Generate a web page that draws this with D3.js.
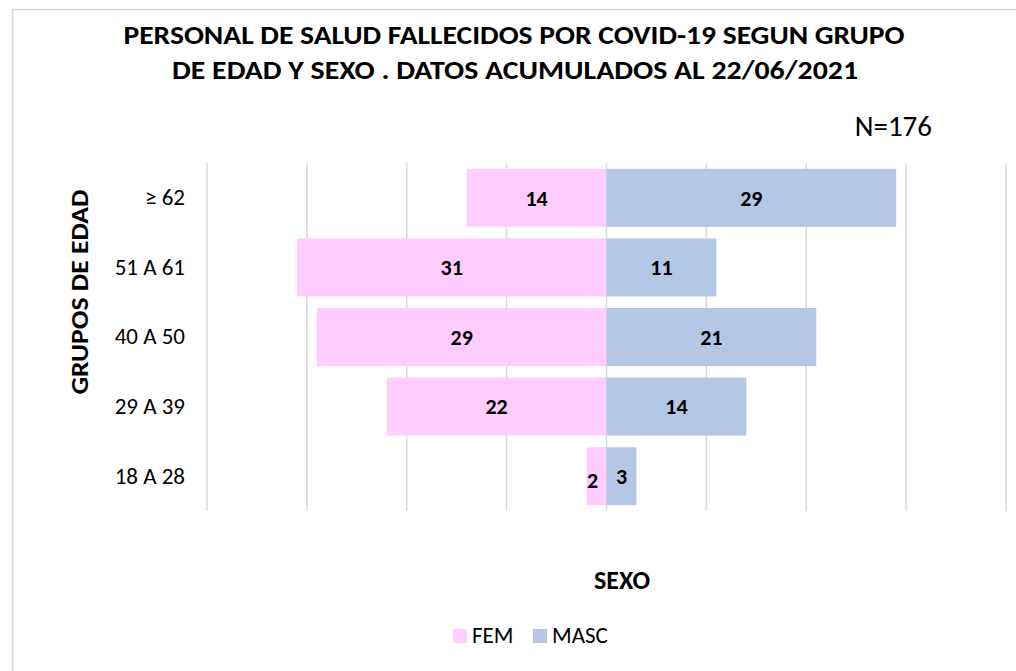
<!DOCTYPE html>
<html>
<head>
<meta charset="utf-8">
<script src="https://cdn.jsdelivr.net/npm/d3@7"></script>
<style>
  body { margin: 0; background: #fff; }
  svg text { font-family: Carlito, Calibri, "Open Sans", sans-serif; fill: #000; }
</style>
</head>
<body>
<div id="chart"></div>
<script>
// data
var groups = ['≥ 62', '51 A 61', '40 A 50', '29 A 39', '18 A 28'];
var fem = [14, 31, 29, 22, 2];
var masc = [29, 11, 21, 14, 3];
var ticks = [-40, -30, -20, -10, 0, 10, 20, 30, 40];
var seriesNames = ['FEM', 'MASC'];
var colors = ['#ffccff', '#b4c7e7'];

var width = 1016, height = 671;

var svg = d3.select('#chart').append('svg')
    .attr('width', width)
    .attr('height', height);

// chart frame (only left/top edges inside the window)
svg.append('rect')
    .attr('x', 12.5).attr('y', 9.5)
    .attr('width', width + 20).attr('height', height + 20)
    .attr('fill', 'none')
    .attr('stroke', '#d9d9d9')
    .attr('stroke-width', 1.5);

var xScale = d3.scaleLinear()
    .domain([-40, 40])
    .range([207, 1006]);

var yScale = d3.scaleBand()
    .domain(groups)
    .range([163, 511])
    .paddingInner(1 / 6)
    .paddingOuter(1 / 12);

// gridlines
svg.append('g').attr('class', 'grid')
    .selectAll('line')
    .data(ticks)
    .enter().append('line')
    .attr('x1', function (d) { return xScale(d); })
    .attr('x2', function (d) { return xScale(d); })
    .attr('y1', 163)
    .attr('y2', 511)
    .attr('stroke', '#d9d9d9')
    .attr('stroke-width', 1.5);

// bars
var rows = groups.map(function (g, i) { return {g: g, f: fem[i], m: masc[i]}; });
var bars = svg.append('g');

bars.selectAll('rect.fem')
    .data(rows)
    .enter().append('rect')
    .attr('class', 'fem')
    .attr('x', function (d) { return xScale(-d.f); })
    .attr('y', function (d) { return yScale(d.g); })
    .attr('width', function (d) { return xScale(0) - xScale(-d.f); })
    .attr('height', yScale.bandwidth())
    .attr('fill', colors[0]);

bars.selectAll('rect.masc')
    .data(rows)
    .enter().append('rect')
    .attr('class', 'masc')
    .attr('x', xScale(0))
    .attr('y', function (d) { return yScale(d.g); })
    .attr('width', function (d) { return xScale(d.m) - xScale(0); })
    .attr('height', yScale.bandwidth())
    .attr('fill', colors[1]);

// value labels
bars.selectAll('text.fem')
    .data(rows)
    .enter().append('text')
    .attr('x', function (d) { return d.f < 4 ? (xScale(-d.f) + xScale(0)) / 2 - 4 : (xScale(-d.f) + xScale(0)) / 2; })
    .attr('y', function (d) { return yScale(d.g) + yScale.bandwidth() / 2 + (d.f < 4 ? 4 : 0); })
    .attr('dy', '0.35em')
    .attr('text-anchor', 'middle')
    .attr('font-weight', 'bold')
    .attr('font-size', 22)
    .text(function (d) { return d.f; });

bars.selectAll('text.masc')
    .data(rows)
    .enter().append('text')
    .attr('x', function (d) { return (xScale(d.m) + xScale(0)) / 2; })
    .attr('y', function (d) { return yScale(d.g) + yScale.bandwidth() / 2; })
    .attr('dy', '0.35em')
    .attr('text-anchor', 'middle')
    .attr('font-weight', 'bold')
    .attr('font-size', 22)
    .text(function (d) { return d.m; });

// y axis (labels only)
var yAxis = d3.axisLeft(yScale).tickSize(0).tickPadding(0);
var yAxisG = svg.append('g')
    .attr('transform', 'translate(185,0)')
    .call(yAxis);
yAxisG.select('.domain').remove();
yAxisG.selectAll('text')
    .attr('font-size', 23)
    .attr('font-family', 'Carlito, Calibri, "Open Sans", sans-serif')
    .attr('fill', '#000');

// titles
svg.append('text')
    .attr('x', 514).attr('y', 44)
    .attr('text-anchor', 'middle')
    .attr('font-weight', 'bold')
    .attr('font-size', 27)
    .attr('textLength', 781)
    .attr('lengthAdjust', 'spacingAndGlyphs')
    .text('PERSONAL DE SALUD FALLECIDOS POR COVID-19 SEGUN GRUPO');

svg.append('text')
    .attr('x', 515).attr('y', 79)
    .attr('text-anchor', 'middle')
    .attr('font-weight', 'bold')
    .attr('font-size', 27)
    .attr('textLength', 686)
    .attr('lengthAdjust', 'spacingAndGlyphs')
    .text('DE EDAD Y SEXO . DATOS ACUMULADOS AL 22/06/2021');

svg.append('text')
    .attr('x', 932).attr('y', 136)
    .attr('text-anchor', 'end')
    .attr('font-size', 29)
    .text('N=176');

svg.append('text')
    .attr('transform', 'translate(88,292) rotate(-90)')
    .attr('text-anchor', 'middle')
    .attr('font-weight', 'bold')
    .attr('font-size', 24)
    .attr('textLength', 205)
    .attr('lengthAdjust', 'spacingAndGlyphs')
    .text('GRUPOS DE EDAD');

svg.append('text')
    .attr('x', 622).attr('y', 589)
    .attr('text-anchor', 'middle')
    .attr('font-weight', 'bold')
    .attr('font-size', 26)
    .text('SEXO');

// legend
var legend = svg.append('g').attr('transform', 'translate(453,629)');
var legendX = [0, 80];
var items = legend.selectAll('g')
    .data(seriesNames)
    .enter().append('g')
    .attr('transform', function (d, i) { return 'translate(' + legendX[i] + ',0)'; });
items.append('rect')
    .attr('width', 14).attr('height', 14)
    .attr('fill', function (d, i) { return colors[i]; });
items.append('text')
    .attr('x', 19).attr('y', 14)
    .attr('font-size', 23)
    .text(function (d) { return d; });
</script>
</body>
</html>
